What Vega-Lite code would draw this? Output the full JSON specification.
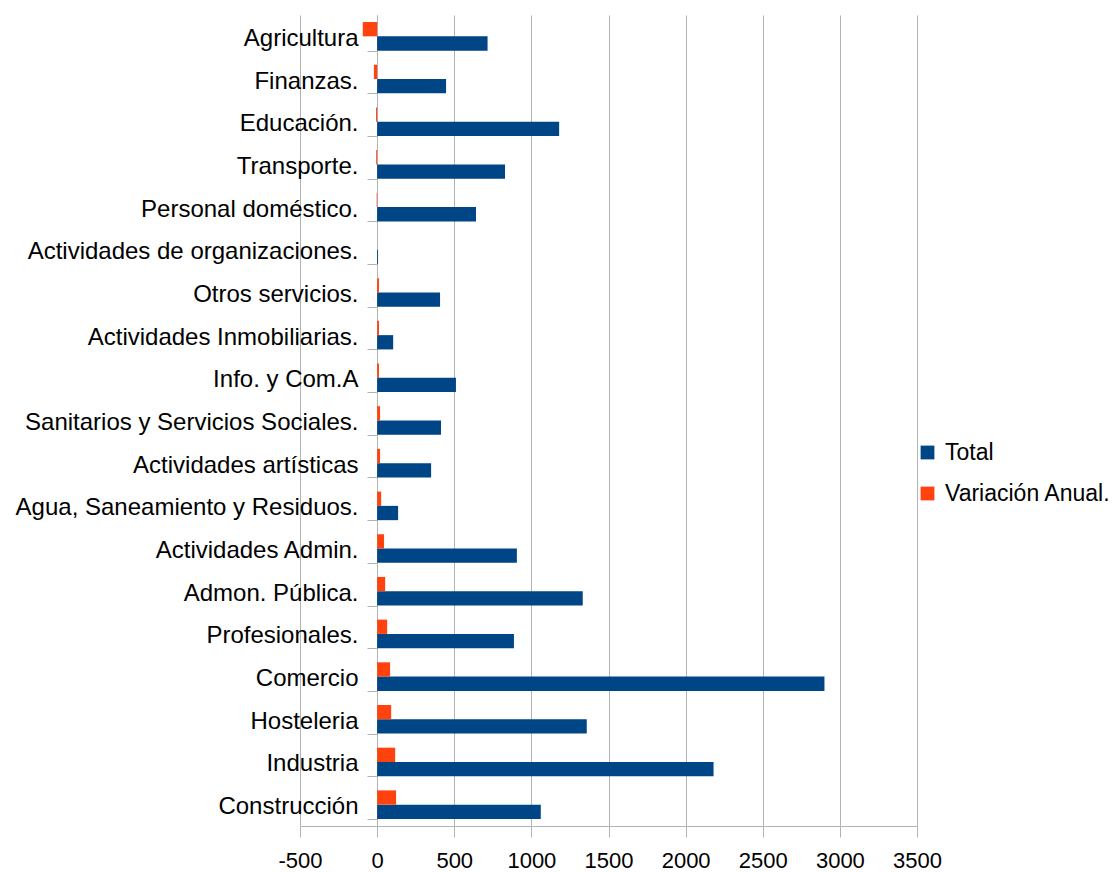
{
  "$schema": "https://vega.github.io/schema/vega-lite/v6.json",
  "autosize": "none",
  "width": 617,
  "height": 811,
  "padding": {"left": 300, "top": 15, "right": 200, "bottom": 46},
  "background": "white",
  "config": {
    "view": {"stroke": null},
    "font": "Liberation Sans"
  },
  "data": {
    "values": [
      {"sector": "Agricultura", "serie": "Total", "valor": 716},
      {"sector": "Agricultura", "serie": "Variación Anual.", "valor": -93},
      {"sector": "Finanzas.", "serie": "Total", "valor": 447},
      {"sector": "Finanzas.", "serie": "Variación Anual.", "valor": -21},
      {"sector": "Educación.", "serie": "Total", "valor": 1180},
      {"sector": "Educación.", "serie": "Variación Anual.", "valor": -7},
      {"sector": "Transporte.", "serie": "Total", "valor": 829},
      {"sector": "Transporte.", "serie": "Variación Anual.", "valor": -6},
      {"sector": "Personal doméstico.", "serie": "Total", "valor": 641},
      {"sector": "Personal doméstico.", "serie": "Variación Anual.", "valor": -3},
      {"sector": "Actividades de organizaciones.", "serie": "Total", "valor": 6},
      {"sector": "Actividades de organizaciones.", "serie": "Variación Anual.", "valor": 0},
      {"sector": "Otros servicios.", "serie": "Total", "valor": 408},
      {"sector": "Otros servicios.", "serie": "Variación Anual.", "valor": 12},
      {"sector": "Actividades Inmobiliarias.", "serie": "Total", "valor": 104},
      {"sector": "Actividades Inmobiliarias.", "serie": "Variación Anual.", "valor": 12},
      {"sector": "Info. y Com.A", "serie": "Total", "valor": 511},
      {"sector": "Info. y Com.A", "serie": "Variación Anual.", "valor": 12},
      {"sector": "Sanitarios y Servicios Sociales.", "serie": "Total", "valor": 414},
      {"sector": "Sanitarios y Servicios Sociales.", "serie": "Variación Anual.", "valor": 19},
      {"sector": "Actividades artísticas", "serie": "Total", "valor": 350},
      {"sector": "Actividades artísticas", "serie": "Variación Anual.", "valor": 19},
      {"sector": "Agua, Saneamiento y Residuos.", "serie": "Total", "valor": 136},
      {"sector": "Agua, Saneamiento y Residuos.", "serie": "Variación Anual.", "valor": 26},
      {"sector": "Actividades Admin.", "serie": "Total", "valor": 906},
      {"sector": "Actividades Admin.", "serie": "Variación Anual.", "valor": 45},
      {"sector": "Admon. Pública.", "serie": "Total", "valor": 1333},
      {"sector": "Admon. Pública.", "serie": "Variación Anual.", "valor": 52},
      {"sector": "Profesionales.", "serie": "Total", "valor": 887},
      {"sector": "Profesionales.", "serie": "Variación Anual.", "valor": 65},
      {"sector": "Comercio", "serie": "Total", "valor": 2900},
      {"sector": "Comercio", "serie": "Variación Anual.", "valor": 84},
      {"sector": "Hosteleria", "serie": "Total", "valor": 1359},
      {"sector": "Hosteleria", "serie": "Variación Anual.", "valor": 91},
      {"sector": "Industria", "serie": "Total", "valor": 2181},
      {"sector": "Industria", "serie": "Variación Anual.", "valor": 117},
      {"sector": "Construcción", "serie": "Total", "valor": 1061},
      {"sector": "Construcción", "serie": "Variación Anual.", "valor": 123}
    ]
  },
  "mark": {"type": "bar"},
  "encoding": {
    "y": {
      "field": "sector",
      "type": "nominal",
      "sort": null,
      "scale": {"paddingInner": 0.33, "paddingOuter": 0.165},
      "axis": {
        "title": null,
        "offset": -77,
        "tickBand": "extent",
        "tickSize": 10,
        "tickColor": "#b3b3b3",
        "domainColor": "#b3b3b3",
        "labelPadding": 9,
        "labelFontSize": 24,
        "labelColor": "#000000",
        "labelFont": "Liberation Sans",
        "labelLimit": 400,
        "labelBaseline": "middle",
        "labelOffset": 2,
        "grid": false
      }
    },
    "yOffset": {
      "field": "serie",
      "type": "nominal",
      "sort": ["Variación Anual.", "Total"]
    },
    "x": {
      "field": "valor",
      "type": "quantitative",
      "scale": {"domain": [-500, 3500], "nice": false},
      "axis": {
        "title": null,
        "values": [-500, 0, 500, 1000, 1500, 2000, 2500, 3000, 3500],
        "labelExpr": "'' + datum.value",
        "grid": true,
        "gridColor": "#b3b3b3",
        "domainColor": "#b3b3b3",
        "tickColor": "#b3b3b3",
        "tickSize": 11,
        "labelPadding": 13,
        "labelFontSize": 22,
        "labelColor": "#000000",
        "labelFont": "Liberation Sans",
        "labelFlush": false
      }
    },
    "color": {
      "field": "serie",
      "type": "nominal",
      "scale": {"domain": ["Total", "Variación Anual."], "range": ["#004586", "#ff420e"]},
      "legend": {
        "title": null,
        "orient": "none",
        "legendX": 616,
        "legendY": 426,
        "symbolType": "square",
        "symbolSize": 190,
        "symbolStrokeWidth": 0,
        "labelFontSize": 23,
        "labelColor": "#000000",
        "labelFont": "Liberation Sans",
        "rowPadding": 17,
        "labelOffset": 6,
        "labelLimit": 300
      }
    }
  }
}
